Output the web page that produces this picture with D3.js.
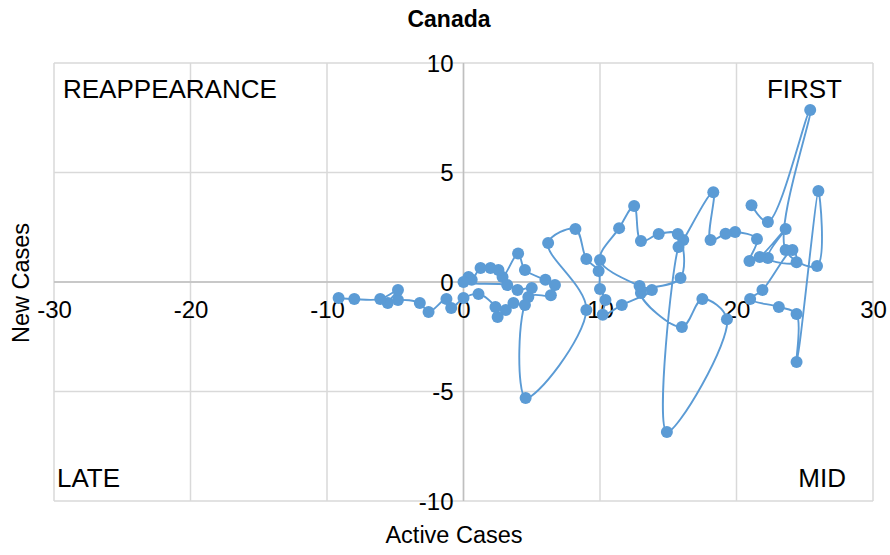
<!DOCTYPE html>
<html><head><meta charset="utf-8">
<script src="https://cdn.jsdelivr.net/npm/d3@7"></script>
<style>body{margin:0;background:#fff}svg{font-family:"Liberation Sans",Arial,sans-serif}</style>
</head><body>
<svg id="c" width="890" height="555"></svg>
<script>
const title = "Canada";
const xLabel = "Active Cases";
const yLabel = "New Cases";
const xTicks = [-30,-20,-10,0,10,20,30];
const yTicks = [-10,-5,0,5,10];
const quadrantLabels = ["REAPPEARANCE","FIRST","LATE","MID"];
const activeCases = [21.1,22.3,25.4,23.6,25.9,26.0,24.4,24.4,23.1,21.0,21.9,24.1,24.4,22.3,23.6,21.7,20.95,21.5,19.9,19.2,18.1,18.3,16.1,15.75,14.9,19.3,17.5,16.0,13.0,15.9,15.7,14.3,13.0,12.5,11.4,10.0,12.9,13.8,11.6,10.2,10.4,10.0,9.9,9.0,8.2,6.2,9.0,4.55,4.75,6.4,6.7,6.0,4.5,4.0,2.86,2.56,1.98,1.25,0.6,0.37,0,3.2,3.96,5.0,4.5,3.66,3.1,2.5,2.34,1.1,0,-0.9,-1.25,-2.56,-3.2,-4.8,-5.55,-4.8,-6.1,-8.0,-9.15];
const newCases = [3.5,2.74,7.85,1.46,0.73,4.15,-3.65,-1.46,-1.14,-0.78,-0.37,1.46,0.9,1.1,2.42,1.14,0.96,1.96,2.28,2.2,1.92,4.1,1.92,1.6,-6.85,-1.7,-0.78,-2.05,-0.5,0.18,2.19,2.19,1.87,3.47,2.46,1.0,-0.18,-0.37,-1.05,-1.5,-0.82,-0.32,0.5,1.05,2.42,1.78,-1.28,-5.3,-0.68,-0.6,-0.14,0.1,0.55,1.3,0.23,0.55,0.64,0.64,0.1,0.23,0,-0.14,-0.37,-0.27,-1.05,-0.96,-1.28,-1.6,-1.14,-0.55,-0.73,-1.19,-0.78,-1.37,-0.96,-0.82,-0.96,-0.37,-0.78,-0.78,-0.73];

const data = activeCases.map((x,i)=>({x, y:newCases[i]}));
const svg = d3.select("#c");
const L=54,R=873,T=63,B=501;
const x = d3.scaleLinear().domain([-30,30]).range([L,R]);
const y = d3.scaleLinear().domain([-10,10]).range([B,T]);
const grid = "#d9d9d9";
const FF = "Liberation Sans, Arial, sans-serif";

// gridlines
svg.append("g").selectAll("line").data(xTicks).join("line")
  .attr("x1",d=>x(d)).attr("x2",d=>x(d)).attr("y1",T).attr("y2",B)
  .attr("stroke",grid).attr("stroke-width",1.5);
svg.append("g").selectAll("line").data(yTicks).join("line")
  .attr("y1",d=>y(d)).attr("y2",d=>y(d)).attr("x1",L).attr("x2",R)
  .attr("stroke",grid).attr("stroke-width",1.5);
// zero axes
svg.append("line").attr("x1",L).attr("x2",R).attr("y1",y(0)).attr("y2",y(0)).attr("stroke","#bfbfbf").attr("stroke-width",1.5);
svg.append("line").attr("x1",x(0)).attr("x2",x(0)).attr("y1",T).attr("y2",B).attr("stroke","#bfbfbf").attr("stroke-width",1.5);

// tick labels
const xa = d3.axisBottom(x).tickValues(xTicks).tickFormat(d=>String(d)).tickSize(0).tickPadding(0);
const gx = svg.append("g").attr("transform",`translate(0,${y(0)+28})`).call(xa);
gx.select(".domain").remove();
gx.selectAll("text").attr("font-size",24).attr("fill","#000").attr("dy","0.35em").attr("font-family",FF);
const ya = d3.axisLeft(y).tickValues(yTicks).tickFormat(d=>String(d)).tickSize(0).tickPadding(10);
const gy = svg.append("g").attr("transform",`translate(${x(0)},0)`).call(ya);
gy.select(".domain").remove();
gy.selectAll("text").attr("font-size",24).attr("fill","#000").attr("dy","0.35em").attr("font-family",FF);

// line + points
const line = d3.line().x(d=>x(d.x)).y(d=>y(d.y)).curve(d3.curveCatmullRom.alpha(0.5));
svg.append("path").datum(data).attr("d",line).attr("fill","none").attr("stroke","#5b9bd5").attr("stroke-width",1.9);
svg.append("g").selectAll("circle").data(data).join("circle")
  .attr("cx",d=>x(d.x)).attr("cy",d=>y(d.y)).attr("r",6).attr("fill","#5b9bd5");

// titles
svg.append("text").attr("x",449).attr("y",27).attr("text-anchor","middle").attr("font-size",23).attr("font-weight","bold").text(title);
svg.append("text").attr("x",454).attr("y",543).attr("text-anchor","middle").attr("font-size",23.5).text(xLabel);
svg.append("text").attr("transform","translate(29,283) rotate(-90)").attr("text-anchor","middle").attr("font-size",23.5).text(yLabel);

// quadrant labels
const q = [[63,98,"start"],[842,98,"end"],[57,487,"start"],[846,487,"end"]];
svg.append("g").selectAll("text").data(quadrantLabels).join("text")
  .attr("x",(d,i)=>q[i][0]).attr("y",(d,i)=>q[i][1]).attr("text-anchor",(d,i)=>q[i][2])
  .attr("font-size",26).text(d=>d);
</script>
</body></html>
